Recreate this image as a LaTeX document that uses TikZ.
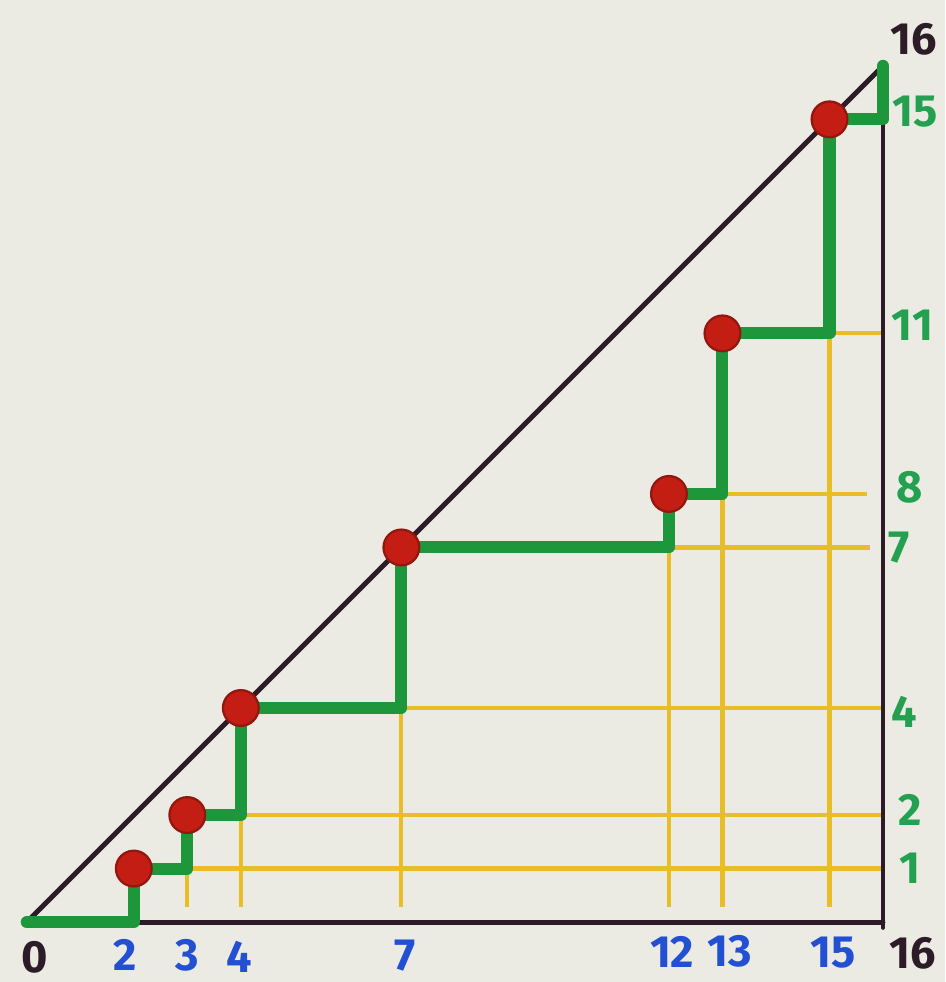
\documentclass[tikz,border=0pt]{standalone}
\usepackage{fontspec}
\setmainfont{Fira Sans}
\usepackage{tikz}
\usetikzlibrary{positioning, calc}
\definecolor{cPaper}{RGB}{236,235,227}
\definecolor{cEdge}{RGB}{44,28,40}
\definecolor{cStair}{RGB}{30,150,60}
\definecolor{cGrid}{RGB}{232,190,40}
\definecolor{cSpot}{RGB}{196,30,20}
\definecolor{cBlue}{RGB}{35,80,210}
\definecolor{cGreenLab}{RGB}{35,160,80}
\tikzset{
	edgeline/.style ={draw=cEdge, line width=1.3pt, line cap=round},
	stair/.style    ={draw=cStair, line width=3.2pt, line join=round, line cap=round},
	gridln/.style   ={draw=cGrid, line width=1.1pt},
	spot/.style     ={circle, fill=cSpot, draw=cSpot!75!black, line width=0.6pt, minimum size=9.5pt, inner sep=0pt},
	xlab/.style     ={text=cBlue, font=\fontsize{12}{14}\selectfont\bfseries, inner sep=1pt},
	ylab/.style     ={text=cGreenLab, font=\fontsize{12}{14}\selectfont\bfseries, inner sep=1pt},
	blab/.style     ={text=cEdge, font=\fontsize{12}{14}\selectfont\bfseries, inner sep=1pt},
}
\begin{document}
\begin{tikzpicture}[x=0.5cm, y=0.5cm]
	% paper
	\fill[cPaper] (-0.50,-1.12) rectangle (17.16,17.23);
	\useasboundingbox (-0.50,-1.12) rectangle (17.16,17.23);
	% corners of the triangle
	\coordinate (o) at (0,0);
	\coordinate (r0) at (16,0);
	\coordinate (t) at (16,16);
	\coordinate (base) at (0,0.28);
	% staircase points
	\coordinate (a0) at (2,0);
	\coordinate (d1) at (2,1);
	\coordinate (b1) at (3,1);
	\coordinate (d2) at (3,2);
	\coordinate (b2) at (4,2);
	\coordinate (d3) at (4,4);
	\coordinate (b3) at (7,4);
	\coordinate (d4) at (7,7);
	\coordinate (b4) at (12,7);
	\coordinate (d5) at (12,8);
	\coordinate (b5) at (13,8);
	\coordinate (d6) at (13,11);
	\coordinate (b6) at (15,11);
	\coordinate (d7) at (15,15);
	\coordinate (b7) at (16,15);
	% yellow guide lines
	\draw[gridln] (b1) -- (b1 -| r0);
	\draw[gridln] (b2) -- (b2 -| r0);
	\draw[gridln] (b3) -- (b3 -| r0);
	\draw[gridln] (b4) -- ($(b4 -| r0)+(-0.25,0)$);
	\draw[gridln] (b5) -- ($(b5 -| r0)+(-0.3,0)$);
	\draw[gridln] (b6) -- (b6 -| r0);
	\draw[gridln] (b1) -- (b1 |- base);
	\draw[gridln] (b2) -- (b2 |- base);
	\draw[gridln] (b3) -- (b3 |- base);
	\draw[gridln] (b4) -- (b4 |- base);
	\draw[gridln] (b5) -- (b5 |- base);
	\draw[gridln] (b6) -- (b6 |- base);
	% triangle
	\draw[edgeline] (o) -- (r0);
	\draw[edgeline] ($(r0)+(0,-0.1)$) -- (t);
	\draw[edgeline] (o) -- (t);
	% staircase
	\draw[stair] (o) -- (a0) -- (d1) -- (b1) -- (d2) -- (b2) -- (d3) -- (b3) -- (d4)
		-- (b4) -- (d5) -- (b5) -- (d6) -- (b6) -- (d7) -- (b7) -- (t);
	% red points
	\node[spot] (p1) at (d1) {};
	\node[spot] (p2) at (d2) {};
	\node[spot] (p3) at (d3) {};
	\node[spot] (p4) at (d4) {};
	\node[spot] (p5) at (d5) {};
	\node[spot] (p6) at (d6) {};
	\node[spot] (p7) at (d7) {};
	% labels on the bottom
	\node[blab] (l0) at (0.15,-0.65) {0};
	\node[xlab] (l2) at (1.83,-0.62) {2};
	\node[xlab] (l3) at (3.0,-0.62) {3};
	\node[xlab] (l4) at (3.98,-0.65) {4};
	\node[xlab] (l7) at (7.07,-0.62) {7};
	\node[xlab] (l12) at (12.06,-0.55) {12};
	\node[xlab] (l13) at (13.14,-0.55) {13};
	\node[xlab] (l15) at (15.07,-0.58) {15};
	\node[blab] (l16) at (16.55,-0.58) {16};
	% labels on the right
	\node[ylab] (r1) at (16.5,1.0) {1};
	\node[ylab] (r2) at (16.5,2.09) {2};
	\node[ylab] (r4) at (16.4,3.93) {4};
	\node[ylab] (r7) at (16.3,7.0) {7};
	\node[ylab] (r8) at (16.5,8.13) {8};
	\node[ylab] (r11) at (16.55,11.16) {11};
	\node[ylab] (r15) at (16.6,15.14) {15};
	\node[blab] (r16) at (16.58,16.5) {16};
\end{tikzpicture}
\end{document}
